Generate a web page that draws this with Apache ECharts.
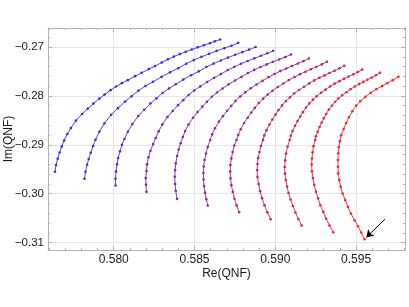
<!DOCTYPE html>
<html><head><meta charset="utf-8">
<script src="https://cdn.jsdelivr.net/npm/echarts@6/dist/echarts.min.js"></script>
<style>html,body{margin:0;padding:0;background:#fff}#c{width:409px;height:307px}</style>
</head><body><div id="c"></div>
<script>
// Each curve: [Re(QNF), Im(QNF)] points (bottom end to top end)
const qnf1 = [[0.57636,-0.29552],[0.57643,-0.29414],[0.57653,-0.29285],[0.57665,-0.29158],[0.57678,-0.29035],[0.57693,-0.28912],[0.57713,-0.28778],[0.57735,-0.28655],[0.57766,-0.28506],[0.57804,-0.28368],[0.57839,-0.28260],[0.57874,-0.28157],[0.57911,-0.28054],[0.57944,-0.27972],[0.57980,-0.27882],[0.58014,-0.27808],[0.58050,-0.27738],[0.58087,-0.27677],[0.58132,-0.27595],[0.58173,-0.27527],[0.58217,-0.27451],[0.58256,-0.27390],[0.58297,-0.27316],[0.58335,-0.27250],[0.58372,-0.27195],[0.58409,-0.27144],[0.58446,-0.27096],[0.58483,-0.27051],[0.58520,-0.27006],[0.58558,-0.26963],[0.58595,-0.26922],[0.58626,-0.26883],[0.58659,-0.26844]];
const qnf2 = [[0.57819,-0.29695],[0.57825,-0.29552],[0.57835,-0.29408],[0.57845,-0.29291],[0.57858,-0.29162],[0.57872,-0.29025],[0.57887,-0.28895],[0.57911,-0.28734],[0.57942,-0.28563],[0.57984,-0.28385],[0.58026,-0.28250],[0.58070,-0.28116],[0.58111,-0.28005],[0.58153,-0.27892],[0.58196,-0.27798],[0.58243,-0.27711],[0.58296,-0.27610],[0.58348,-0.27517],[0.58399,-0.27433],[0.58448,-0.27341],[0.58496,-0.27267],[0.58543,-0.27199],[0.58590,-0.27139],[0.58637,-0.27079],[0.58685,-0.27023],[0.58729,-0.26972],[0.58770,-0.26918]];
const qnf3 = [[0.58011,-0.29831],[0.58011,-0.29695],[0.58014,-0.29544],[0.58020,-0.29400],[0.58027,-0.29271],[0.58039,-0.29133],[0.58051,-0.28998],[0.58066,-0.28881],[0.58087,-0.28733],[0.58115,-0.28576],[0.58152,-0.28411],[0.58189,-0.28283],[0.58227,-0.28156],[0.58264,-0.28049],[0.58302,-0.27940],[0.58342,-0.27847],[0.58384,-0.27761],[0.58431,-0.27666],[0.58479,-0.27577],[0.58527,-0.27497],[0.58573,-0.27409],[0.58618,-0.27338],[0.58663,-0.27274],[0.58707,-0.27216],[0.58752,-0.27158],[0.58796,-0.27104],[0.58838,-0.27053],[0.58878,-0.27000]];
const qnf4 = [[0.58203,-0.29962],[0.58200,-0.29819],[0.58198,-0.29681],[0.58203,-0.29538],[0.58206,-0.29400],[0.58215,-0.29256],[0.58227,-0.29121],[0.58244,-0.28984],[0.58260,-0.28861],[0.58278,-0.28726],[0.58301,-0.28582],[0.58333,-0.28429],[0.58365,-0.28308],[0.58398,-0.28188],[0.58430,-0.28086],[0.58463,-0.27980],[0.58498,-0.27888],[0.58536,-0.27805],[0.58578,-0.27715],[0.58621,-0.27630],[0.58663,-0.27553],[0.58706,-0.27471],[0.58747,-0.27403],[0.58788,-0.27341],[0.58829,-0.27286],[0.58870,-0.27231],[0.58911,-0.27179],[0.58950,-0.27129],[0.58987,-0.27076]];
const qnf5 = [[0.58392,-0.30106],[0.58384,-0.29942],[0.58380,-0.29804],[0.58378,-0.29654],[0.58380,-0.29517],[0.58384,-0.29380],[0.58392,-0.29230],[0.58402,-0.29096],[0.58414,-0.28967],[0.58428,-0.28840],[0.58442,-0.28718],[0.58463,-0.28586],[0.58491,-0.28446],[0.58519,-0.28331],[0.58548,-0.28219],[0.58577,-0.28120],[0.58607,-0.28018],[0.58639,-0.27929],[0.58674,-0.27848],[0.58711,-0.27763],[0.58751,-0.27683],[0.58791,-0.27609],[0.58830,-0.27532],[0.58869,-0.27467],[0.58908,-0.27408],[0.58947,-0.27355],[0.58985,-0.27303],[0.59024,-0.27253],[0.59062,-0.27204],[0.59097,-0.27152]];
const qnf6 = [[0.58582,-0.30241],[0.58573,-0.30112],[0.58565,-0.29979],[0.58559,-0.29845],[0.58556,-0.29712],[0.58555,-0.29579],[0.58557,-0.29445],[0.58562,-0.29312],[0.58571,-0.29179],[0.58582,-0.29045],[0.58597,-0.28902],[0.58609,-0.28787],[0.58627,-0.28661],[0.58651,-0.28526],[0.58676,-0.28413],[0.58702,-0.28303],[0.58727,-0.28204],[0.58754,-0.28101],[0.58783,-0.28010],[0.58814,-0.27928],[0.58848,-0.27844],[0.58884,-0.27765],[0.58921,-0.27692],[0.58958,-0.27616],[0.58995,-0.27551],[0.59031,-0.27492],[0.59068,-0.27440],[0.59103,-0.27387],[0.59140,-0.27337],[0.59175,-0.27287],[0.59208,-0.27234]];
const qnf7 = [[0.58776,-0.30379],[0.58761,-0.30240],[0.58747,-0.30102],[0.58737,-0.29963],[0.58728,-0.29825],[0.58723,-0.29686],[0.58721,-0.29548],[0.58722,-0.29414],[0.58728,-0.29281],[0.58736,-0.29148],[0.58746,-0.29014],[0.58760,-0.28902],[0.58771,-0.28796],[0.58786,-0.28680],[0.58807,-0.28554],[0.58829,-0.28446],[0.58851,-0.28341],[0.58873,-0.28245],[0.58898,-0.28144],[0.58925,-0.28055],[0.58953,-0.27973],[0.58983,-0.27894],[0.59016,-0.27817],[0.59050,-0.27746],[0.59084,-0.27674],[0.59119,-0.27611],[0.59153,-0.27555],[0.59187,-0.27504],[0.59220,-0.27453],[0.59255,-0.27404],[0.59288,-0.27355],[0.59320,-0.27302]];
const qnf8 = [[0.58971,-0.30522],[0.58951,-0.30379],[0.58933,-0.30235],[0.58918,-0.30091],[0.58906,-0.29948],[0.58897,-0.29804],[0.58890,-0.29661],[0.58888,-0.29517],[0.58890,-0.29394],[0.58894,-0.29271],[0.58902,-0.29148],[0.58911,-0.29025],[0.58924,-0.28902],[0.58932,-0.28807],[0.58946,-0.28700],[0.58964,-0.28584],[0.58982,-0.28482],[0.59001,-0.28383],[0.59020,-0.28290],[0.59042,-0.28194],[0.59066,-0.28106],[0.59091,-0.28027],[0.59117,-0.27951],[0.59147,-0.27879],[0.59178,-0.27811],[0.59210,-0.27743],[0.59241,-0.27682],[0.59273,-0.27629],[0.59305,-0.27580],[0.59335,-0.27531],[0.59367,-0.27484],[0.59398,-0.27436],[0.59427,-0.27384]];
const qnf9 = [[0.59163,-0.30651],[0.59143,-0.30518],[0.59125,-0.30385],[0.59109,-0.30253],[0.59095,-0.30120],[0.59082,-0.29987],[0.59073,-0.29853],[0.59065,-0.29722],[0.59060,-0.29589],[0.59058,-0.29455],[0.59061,-0.29318],[0.59067,-0.29179],[0.59076,-0.29041],[0.59089,-0.28902],[0.59096,-0.28816],[0.59107,-0.28719],[0.59122,-0.28611],[0.59138,-0.28515],[0.59154,-0.28422],[0.59171,-0.28332],[0.59190,-0.28239],[0.59211,-0.28153],[0.59233,-0.28076],[0.59256,-0.28005],[0.59283,-0.27936],[0.59311,-0.27871],[0.59339,-0.27806],[0.59368,-0.27748],[0.59397,-0.27697],[0.59426,-0.27650],[0.59454,-0.27603],[0.59483,-0.27558],[0.59511,-0.27511],[0.59538,-0.27460]];
const qnf10 = [[0.59359,-0.30789],[0.59336,-0.30650],[0.59315,-0.30512],[0.59297,-0.30373],[0.59279,-0.30235],[0.59265,-0.30096],[0.59252,-0.29958],[0.59241,-0.29820],[0.59233,-0.29681],[0.59227,-0.29543],[0.59225,-0.29404],[0.59227,-0.29279],[0.59231,-0.29153],[0.59237,-0.29027],[0.59247,-0.28902],[0.59252,-0.28824],[0.59262,-0.28735],[0.59274,-0.28636],[0.59287,-0.28545],[0.59301,-0.28457],[0.59315,-0.28370],[0.59332,-0.28279],[0.59351,-0.28195],[0.59371,-0.28120],[0.59390,-0.28052],[0.59414,-0.27986],[0.59440,-0.27924],[0.59466,-0.27863],[0.59492,-0.27807],[0.59519,-0.27758],[0.59545,-0.27713],[0.59570,-0.27668],[0.59597,-0.27625],[0.59623,-0.27578],[0.59648,-0.27527]];
const qnf11 = [[0.59553,-0.30932],[0.59532,-0.30795],[0.59512,-0.30666],[0.59491,-0.30543],[0.59468,-0.30405],[0.59450,-0.30270],[0.59433,-0.30132],[0.59417,-0.29995],[0.59405,-0.29860],[0.59396,-0.29722],[0.59390,-0.29585],[0.59388,-0.29449],[0.59388,-0.29312],[0.59390,-0.29174],[0.59393,-0.29051],[0.59400,-0.28928],[0.59408,-0.28805],[0.59423,-0.28676],[0.59439,-0.28553],[0.59456,-0.28436],[0.59477,-0.28313],[0.59501,-0.28198],[0.59526,-0.28108],[0.59557,-0.28020],[0.59591,-0.27937],[0.59625,-0.27862],[0.59661,-0.27800],[0.59693,-0.27739],[0.59727,-0.27677],[0.59762,-0.27609]];

// Arrow annotation (tail -> head), in data units
const arrowFrom = [0.59679, -0.30522];
const arrowTo = [0.59564, -0.30891];

// Axis ranges
const xRange = [0.57593, 0.59803];
const yRange = [-0.31152, -0.26610];

const curves = [qnf1, qnf2, qnf3, qnf4, qnf5, qnf6, qnf7, qnf8, qnf9, qnf10, qnf11];
const colorStart = [45, 45, 255];
const colorEnd = [255, 35, 35];
const curveColors = curves.map((_, i) => {
  const t = i / (curves.length - 1);
  const c = colorStart.map((s, k) => Math.round(s + (colorEnd[k] - s) * t));
  return 'rgb(' + c.join(',') + ')';
});

const FONT = '"Liberation Sans", Arial, Helvetica, sans-serif';
const FRAME = '#b3b3b3';
const GRIDC = '#e6e6e6';
const TXT = '#1a1a1a';

function isMult(v, step) { const q = v / step; return Math.abs(q - Math.round(q)) < 1e-6; }

function makeAxis(kind, pos, withLabels) {
  const isX = kind === 'x';
  const r = isX ? xRange : yRange;
  const ax = {
    type: 'value', position: pos, min: r[0], max: r[1],
    splitNumber: isX ? 4 : 5,
    scale: true,
    axisLine: { show: true, onZero: false, lineStyle: { color: FRAME, width: 1 } },
    axisTick: { show: true, inside: true, length: 4, lineStyle: { color: FRAME, width: 1 } },
    minorTick: { show: true, splitNumber: 5, length: 2, lineStyle: { color: FRAME, width: 1 } },
    splitLine: { show: withLabels, lineStyle: { color: GRIDC, width: 1 } },
    minorSplitLine: { show: false },
    axisLabel: { show: withLabels },
    silent: true
  };
  if (withLabels) {
    ax.axisLabel = {
      show: true, showMinLabel: false, showMaxLabel: false,
      color: TXT, fontSize: isX ? 12 : 11.5, fontFamily: FONT, margin: 4,
      formatter: isX
        ? (v) => isMult(v, 0.005) ? v.toFixed(3) : ''
        : (v) => isMult(v, 0.01) ? v.toFixed(2).replace('-', '\u2212') : ''
    };
    ax.name = isX ? 'Re(QNF)' : 'Im(QNF)';
    ax.nameLocation = 'middle';
    ax.nameGap = isX ? 18 : 33;
    ax.nameMoveOverlap = false;
    ax.nameTextStyle = { color: TXT, fontSize: 12, fontFamily: FONT };
  }
  return ax;
}

const series = curves.map((pts, i) => ({
  type: 'line',
  data: pts,
  xAxisIndex: 0, yAxisIndex: 0,
  showSymbol: true, symbol: 'circle', symbolSize: 2.6,
  lineStyle: { width: 0.9, color: curveColors[i] },
  itemStyle: { color: curveColors[i] },
  emphasis: { disabled: true },
  animation: false, z: 3
}));
series[series.length - 1].markLine = {
  silent: true, animation: false,
  symbol: ['none', 'arrow'], symbolSize: 7,
  lineStyle: { color: '#000', width: 1, type: 'solid' },
  label: { show: false },
  emphasis: { disabled: true },
  data: [[{ coord: arrowFrom }, { coord: arrowTo }]]
};

const chart = echarts.init(document.getElementById('c'), null, { renderer: 'canvas' });
chart.setOption({
  animation: false,
  backgroundColor: '#ffffff',
  grid: { left: 48, right: 4, top: 28, bottom: 57, containLabel: false, outerBoundsMode: 'none' },
  xAxis: [makeAxis('x', 'bottom', true), makeAxis('x', 'top', false)],
  yAxis: [makeAxis('y', 'left', true), makeAxis('y', 'right', false)],
  series: series
});
</script>
</body></html>
